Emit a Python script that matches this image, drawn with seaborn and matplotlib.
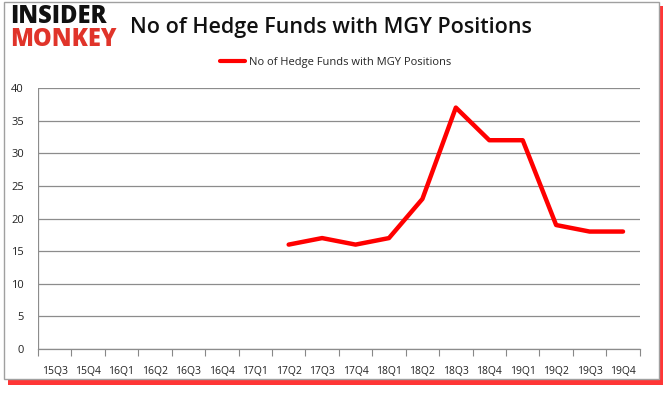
import matplotlib
matplotlib.use("Agg")
import matplotlib.pyplot as plt
import seaborn as sns
import pandas as pd
import numpy as np
from matplotlib.patches import Rectangle

quarters = ["15Q3", "15Q4", "16Q1", "16Q2", "16Q3", "16Q4", "17Q1", "17Q2", "17Q3",
            "17Q4", "18Q1", "18Q2", "18Q3", "18Q4", "19Q1", "19Q2", "19Q3", "19Q4"]
funds = [None, None, None, None, None, None, None, 16, 17, 16, 17, 23, 37, 32, 32, 19, 18, 18]
series_name = "No of Hedge Funds with MGY Positions"
yticks = [0, 5, 10, 15, 20, 25, 30, 35, 40]

sns.set_theme(style="white")
plt.rcParams['font.family'] = ['Open Sans', 'DejaVu Sans']

df = pd.DataFrame({"quarter": quarters,
                   "pos": np.arange(len(quarters)),
                   "funds": [np.nan if v is None else v for v in funds]})

fig = plt.figure(figsize=(6.65, 3.93), dpi=100)
# frame with red shadow
fig.patches.append(Rectangle((0.012, 0.02), 0.985, 0.965, transform=fig.transFigure,
                             facecolor="#ff2020", edgecolor="none", zorder=0, alpha=0.9))
fig.patches.append(Rectangle((0.006, 0.035), 0.985, 0.96, transform=fig.transFigure,
                             facecolor="white", edgecolor="#a0a0a0", lw=1, zorder=1))

ax = fig.add_axes([0.057, 0.112, 0.905, 0.664])
ax.set_zorder(2)
ax.patch.set_alpha(0)
sns.lineplot(data=df, x="pos", y="funds", ax=ax, color="#ff0000", lw=3.2,
             label=series_name, legend=False)
ax.set_xlim(-0.5, len(quarters) - 0.5)
ax.set_ylim(0, 40)
ax.set_yticks(yticks)
ax.set_xticks(df["pos"])
ax.set_xticklabels(quarters)
ax.set_xticks(np.arange(-0.5, len(quarters), 1), minor=True)
ax.tick_params(axis="x", which="major", length=0, labelsize=7.5, pad=12, colors="#222222")
ax.tick_params(axis="x", which="minor", bottom=True, length=5, color="#888888",
               width=0.8, direction="out")
ax.tick_params(axis="y", length=0, labelsize=8, pad=10, colors="#222222")
ax.yaxis.grid(True, color="#8c8c8c", lw=0.9)
ax.set_xlabel("")
ax.set_ylabel("")
for s in ["top", "right"]:
    ax.spines[s].set_visible(False)
for s in ["left", "bottom"]:
    ax.spines[s].set_color("#8c8c8c")
    ax.spines[s].set_linewidth(0.9)
ax.spines["left"].set_visible(False)
ax.axvline(-0.5, color="#8c8c8c", lw=0.9)

leg = fig.legend(handles=ax.get_lines()[:1], labels=[series_name], loc="center",
                 bbox_to_anchor=(0.505, 0.842), frameon=False, fontsize=8,
                 handlelength=2.2, handletextpad=0.4)
for h in leg.legend_handles:
    h.set_linewidth(3)

fig.text(0.498, 0.93, series_name, ha="center", va="center", fontsize=15.5,
         fontweight="semibold", color="#111111", family=["Open Sans", "DejaVu Sans"])
fig.text(0.015, 0.958, "INSIDER", ha="left", va="center", fontsize=17,
         fontweight="black", color="#111111")
fig.text(0.015, 0.9, "MONKEY", ha="left", va="center", fontsize=17,
         fontweight="black", color="#e0342a")

fig.savefig("out.png", dpi=100)
